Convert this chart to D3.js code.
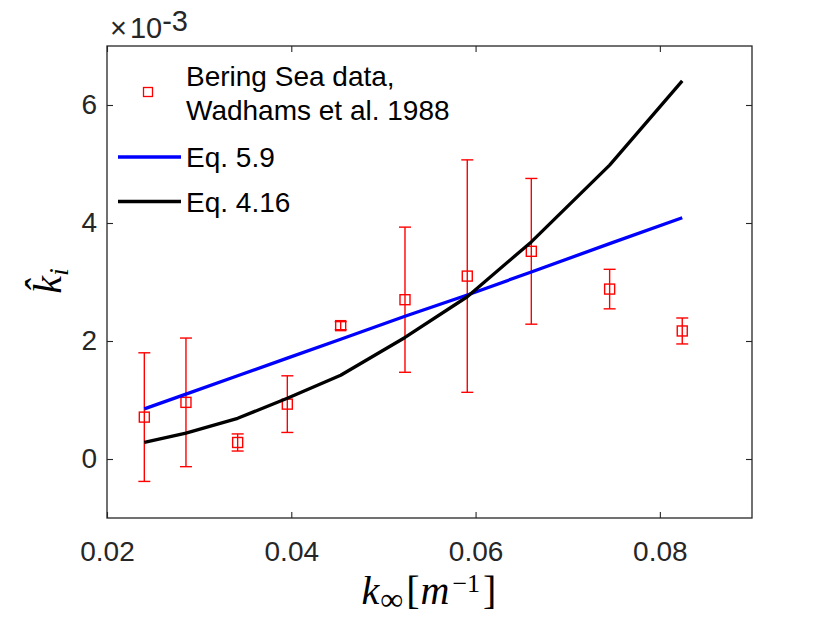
<!DOCTYPE html>
<html>
<head>
<meta charset="utf-8">
<script src="https://cdn.jsdelivr.net/npm/d3@7"></script>
<style>
    body { margin: 0; background: #fff; }
    svg { display: block; }
    .tick text { fill: #262626; }
</style>
</head>
<body>
<main></main>
<script>
// data (k_i values in units of 1e-3)
const kInf = [0.02405, 0.02857, 0.03418, 0.03957, 0.04536, 0.05234, 0.05910, 0.06605, 0.07455, 0.08243];
const kiData = [0.71, 0.96, 0.28, 0.93, 2.26, 2.70, 3.10, 3.52, 2.88, 2.17];
const kiErr = [1.09, 1.09, 0.145, 0.48, 0.068, 1.23, 1.97, 1.235, 0.335, 0.22];
const eq59 = [0.85, 1.10, 1.41, 1.71, 2.03, 2.42, 2.78, 3.17, 3.65, 4.09];
const eq416 = [0.28, 0.44, 0.69, 1.03, 1.42, 2.06, 2.75, 3.68, 4.98, 6.41];

const xTicks = [0.02, 0.04, 0.06, 0.08];
const yTicks = [0, 2, 4, 6];
const legendLabels = [["Bering Sea data,", "Wadhams et al. 1988"], ["Eq. 5.9"], ["Eq. 4.16"]];

const svgSize = { width: 830, height: 623 };
const plot = { left: 107, right: 752, top: 46, bottom: 518 };
const axisColor = "#262626";
const font = "'Liberation Sans', Arial, Helvetica, sans-serif";
const serif = "'Liberation Serif', 'Times New Roman', serif";

const svg = d3.select("main")
    .append("svg")
    .attr("width", svgSize.width)
    .attr("height", svgSize.height);

const xScale = d3.scaleLinear().domain([0.02, 0.09]).range([plot.left, plot.right]);
const yScale = d3.scaleLinear().domain([-1, 7]).range([plot.bottom, plot.top]);

const styleAxis = (g) => {
    g.select(".domain").remove();
    g.selectAll(".tick line").attr("stroke", axisColor).attr("stroke-width", 1.1);
    g.selectAll(".tick text")
        .attr("font-family", font)
        .attr("font-size", 28);
};

// axes on all four sides, ticks pointing inward
svg.append("g")
    .attr("transform", `translate(0,${plot.bottom})`)
    .call(d3.axisBottom(xScale).tickValues(xTicks).tickFormat(d3.format(".2f"))
        .tickSizeInner(-6).tickSizeOuter(0).tickPadding(23))
    .call(styleAxis);

svg.append("g")
    .attr("transform", `translate(0,${plot.top})`)
    .call(d3.axisTop(xScale).tickValues(xTicks).tickFormat("").tickSizeInner(-6).tickSizeOuter(0))
    .call(styleAxis);

svg.append("g")
    .attr("transform", `translate(${plot.left},0)`)
    .call(d3.axisLeft(yScale).tickValues(yTicks).tickFormat(d3.format("d"))
        .tickSizeInner(-6).tickSizeOuter(0).tickPadding(10))
    .call(styleAxis);

svg.append("g")
    .attr("transform", `translate(${plot.right},0)`)
    .call(d3.axisRight(yScale).tickValues(yTicks).tickFormat("").tickSizeInner(-6).tickSizeOuter(0))
    .call(styleAxis);

svg.append("rect")
    .attr("x", plot.left)
    .attr("y", plot.top)
    .attr("width", plot.right - plot.left)
    .attr("height", plot.bottom - plot.top)
    .attr("fill", "none")
    .attr("stroke", axisColor)
    .attr("stroke-width", 1.3);

// exponent label
const expo = svg.append("text")
    .attr("x", 110)
    .attr("y", 38)
    .attr("font-family", font)
    .attr("font-size", 29)
    .attr("fill", axisColor);
expo.append("tspan").text("×");
expo.append("tspan").attr("dx", 3).text("10");
expo.append("tspan").attr("dy", -7).attr("font-size", 29).text("-3");

// error bars
const capHalf = 6;
const bars = svg.append("g").attr("stroke", "#ff0000").attr("stroke-width", 1.4).attr("fill", "none");
kInf.forEach((x, i) => {
    const cx = xScale(x);
    const top = yScale(kiData[i] + kiErr[i]);
    const bot = yScale(kiData[i] - kiErr[i]);
    bars.append("line").attr("x1", cx).attr("x2", cx).attr("y1", top).attr("y2", bot);
    bars.append("line").attr("x1", cx - capHalf).attr("x2", cx + capHalf).attr("y1", top).attr("y2", top);
    bars.append("line").attr("x1", cx - capHalf).attr("x2", cx + capHalf).attr("y1", bot).attr("y2", bot);
});

bars.selectAll("rect")
    .data(kiData)
    .enter()
    .append("rect")
    .attr("x", (d, i) => xScale(kInf[i]) - 5)
    .attr("y", (d) => yScale(d) - 5)
    .attr("width", 10)
    .attr("height", 10);

// model curves
const line = d3.line()
    .x((d, i) => xScale(kInf[i]))
    .y((d) => yScale(d));

svg.append("path")
    .datum(eq59)
    .attr("d", line)
    .attr("fill", "none")
    .attr("stroke", "#0000ff")
    .attr("stroke-width", 3.3);

svg.append("path")
    .datum(eq416)
    .attr("d", line)
    .attr("fill", "none")
    .attr("stroke", "#000000")
    .attr("stroke-width", 3.3)
    .attr("stroke-linejoin", "round");

// legend
const legend = svg.append("g").attr("font-family", font).attr("font-size", 28).attr("fill", "#000");
legend.append("rect")
    .attr("x", 143.5).attr("y", 87.5).attr("width", 9).attr("height", 9)
    .attr("fill", "none").attr("stroke", "#ff0000").attr("stroke-width", 1.3);
legend.append("text").attr("x", 186).attr("y", 86).text(legendLabels[0][0]);
legend.append("text").attr("x", 186).attr("y", 120).text(legendLabels[0][1]);

legend.append("line")
    .attr("x1", 118).attr("x2", 181).attr("y1", 157).attr("y2", 157)
    .attr("stroke", "#0000ff").attr("stroke-width", 3.3);
legend.append("text").attr("x", 186).attr("y", 167).text(legendLabels[1][0]);

legend.append("line")
    .attr("x1", 118).attr("x2", 181).attr("y1", 201.5).attr("y2", 201.5)
    .attr("stroke", "#000000").attr("stroke-width", 3.3);
legend.append("text").attr("x", 186).attr("y", 211.5).text(legendLabels[2][0]);

// axis titles
const xLabel = svg.append("text")
    .attr("x", 429)
    .attr("y", 604)
    .attr("text-anchor", "middle")
    .attr("font-family", serif)
    .attr("font-size", 40)
    .attr("fill", "#000");
xLabel.append("tspan").attr("font-style", "italic").text("k");
xLabel.append("tspan").attr("font-size", 32).attr("dx", 1).attr("dy", 6).text("∞");
xLabel.append("tspan").attr("dx", 3).attr("dy", -6).text("[");
xLabel.append("tspan").attr("font-style", "italic").attr("dx", 1).text("m");
xLabel.append("tspan").attr("font-size", 26).attr("dx", 3).attr("dy", -12).text("−1");
xLabel.append("tspan").attr("dx", 3).attr("dy", 12).text("]");

const yLabel = svg.append("text")
    .attr("transform", "translate(61,281) rotate(-90)")
    .attr("text-anchor", "middle")
    .attr("font-family", serif)
    .attr("font-size", 40)
    .attr("fill", "#000");
yLabel.append("tspan").attr("font-style", "italic").text("k\u0302");
yLabel.append("tspan").attr("font-style", "italic").attr("font-size", 28).attr("dy", 7).text("i");
</script>
</body>
</html>
